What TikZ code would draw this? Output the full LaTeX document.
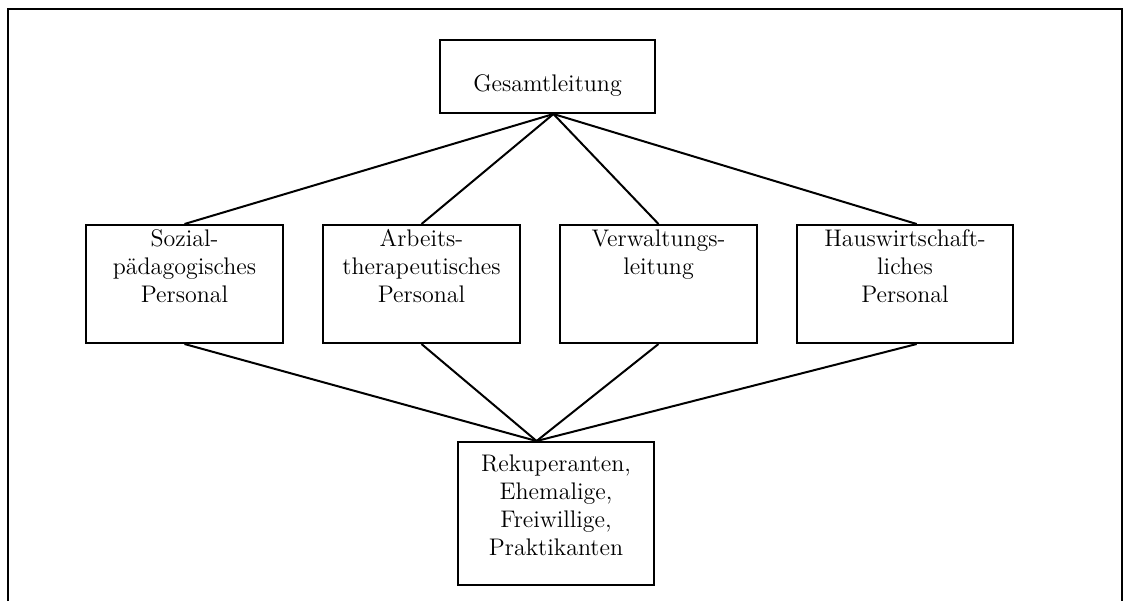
\documentclass[tikz,border=0pt]{standalone}
\usepackage{tikz}
\usetikzlibrary{positioning}

\begin{document}
\begin{tikzpicture}[x=0.5pt, y=-0.5pt,
    unit/.style={draw, line width=1pt, align=center, inner xsep=2pt, inner ysep=1pt,
                 font=\fontsize{12}{14}\selectfont},
    midbox/.style={unit, text width=94.5pt, text height=9.5pt, text depth=47.5pt},
    node distance=19pt]
    \useasboundingbox (0,0) rectangle (1123,601);
    % outer frame, open at the bottom
    \draw[line width=1pt] (8,601) |- (1122,9) -- (1122,601);

    \node[unit, text width=103.5pt, text height=24.5pt, text depth=10pt, anchor=north west] (lead) at (439,39) {Gesamtleitung};
    \node[midbox, anchor=north west] (sozial) at (85,224) {Sozial-\\pädagogisches\\Personal};
    \node[midbox, right=of sozial, anchor=west] (arbeit) {Arbeits-\\therapeutisches\\Personal};
    \node[midbox, right=of arbeit, anchor=west] (verwalt) {Verwaltungs-\\leitung};
    \node[midbox, text width=104pt, right=of verwalt, anchor=west] (haus) {Hauswirtschaft-\\liches\\Personal};
    \node[unit, text width=94pt, text height=13.5pt, text depth=56pt, anchor=north west] (helfer) at (457,441) {Rekuperanten,\\Ehemalige,\\Freiwillige,\\Praktikanten};

    \draw[line width=1pt] (lead.-81) -- (sozial.north);
    \draw[line width=1pt] (lead.-81) -- (arbeit.north);
    \draw[line width=1pt] (lead.-81) -- (verwalt.north);
    \draw[line width=1pt] (lead.-81) -- (haus.79);
    \draw[line width=1pt] (sozial.south) -- (helfer.105);
    \draw[line width=1pt] (arbeit.south) -- (helfer.105);
    \draw[line width=1pt] (verwalt.south) -- (helfer.105);
    \draw[line width=1pt] (haus.281) -- (helfer.105);
\end{tikzpicture}
\end{document}
